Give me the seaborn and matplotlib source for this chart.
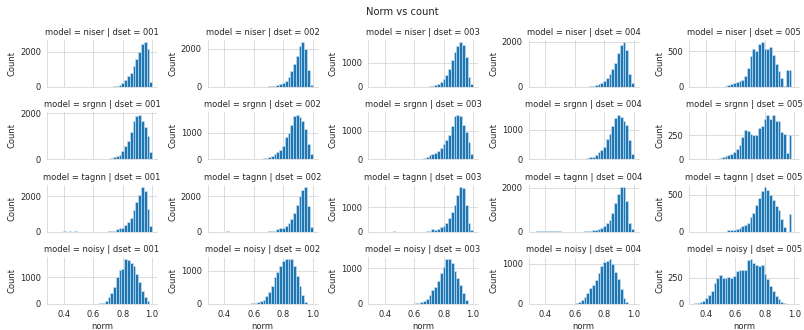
"""
Norm vs count: histograms of norm per model and dataset.
"""

import numpy as np
import pandas as pd
import seaborn as sns
import matplotlib.pyplot as plt


models = ["niser", "srgnn", "tagnn", "noisy"]
dsets = ["001", "002", "003", "004", "005"]

# common histogram bins (36 bins over the observed norm range)
bin_edges = np.linspace(0.32, 1.0, 37).tolist()

# counts per bin, one list per dset
niser_counts = [
    [0, 0, 0, 0, 0, 0, 0, 0, 10, 0, 0, 10, 0, 0, 0, 0, 0, 0,
     0, 0, 10, 20, 40, 70, 130, 230, 400, 600, 800, 1200, 1600, 2000, 2430, 2550, 2150, 280],
    [0, 0, 0, 0, 0, 0, 5, 0, 0, 0, 0, 0, 0, 0, 0, 0, 0, 0,
     10, 15, 25, 40, 60, 90, 150, 220, 330, 510, 820, 1230, 1630, 2140, 2360, 2000, 900, 110],
    [0, 0, 0, 0, 0, 0, 0, 5, 0, 0, 5, 0, 0, 0, 0, 0, 0, 0,
     8, 15, 30, 50, 85, 140, 190, 310, 510, 760, 1110, 1450, 1710, 1860, 1760, 1260, 400, 115],
    [0, 0, 0, 0, 0, 10, 0, 0, 0, 5, 0, 0, 0, 0, 0, 0, 0, 0,
     0, 12, 25, 45, 75, 120, 170, 270, 380, 580, 810, 1070, 1490, 1840, 1980, 1650, 550, 170],
    [0, 0, 0, 0, 0, 0, 0, 0, 0, 0, 0, 15, 30, 40, 60, 70, 90, 100,
     155, 270, 430, 535, 500, 610, 630, 540, 540, 565, 450, 320, 230, 130, 10, 235, 245, 0],
]

srgnn_counts = [
    [0, 0, 0, 0, 0, 0, 0, 0, 0, 0, 0, 0, 0, 0, 0, 0, 0, 0,
     0, 15, 30, 60, 100, 150, 200, 350, 560, 800, 1200, 1650, 1900, 1950, 1650, 1400, 1000, 300],
    [0, 0, 0, 0, 0, 0, 0, 0, 0, 0, 0, 0, 0, 0, 0, 0, 0, 15,
     30, 50, 80, 130, 180, 260, 360, 490, 850, 1000, 1280, 1640, 1680, 1580, 1450, 1130, 590, 205],
    [0, 0, 0, 0, 0, 0, 0, 0, 0, 0, 0, 0, 0, 0, 0, 0, 10, 25,
     50, 90, 140, 190, 235, 300, 390, 540, 680, 860, 1150, 1510, 1560, 1510, 1210, 940, 590, 175],
    [0, 0, 0, 0, 0, 0, 0, 0, 0, 0, 0, 0, 0, 0, 0, 0, 0, 0,
     15, 35, 60, 90, 150, 230, 320, 430, 680, 860, 1110, 1400, 1510, 1430, 1280, 1170, 660, 180],
    [0, 0, 0, 0, 0, 0, 0, 0, 0, 10, 20, 30, 45, 60, 75, 105, 155, 230,
     310, 300, 265, 250, 250, 330, 345, 425, 470, 425, 470, 405, 405, 290, 265, 65, 250, 0],
]

tagnn_counts = [
    [0, 0, 0, 0, 8, 0, 10, 0, 8, 0, 0, 0, 0, 0, 0, 0, 0, 0,
     0, 0, 15, 30, 60, 120, 180, 220, 380, 560, 780, 1200, 1650, 2050, 2530, 2300, 1300, 300],
    [0, 0, 5, 0, 0, 8, 0, 0, 0, 0, 0, 0, 0, 0, 0, 0, 0, 0,
     0, 0, 15, 30, 60, 120, 180, 230, 330, 480, 700, 1050, 1520, 2000, 2330, 2520, 1450, 250],
    [0, 0, 0, 0, 0, 0, 0, 5, 0, 0, 0, 0, 0, 0, 0, 0, 0, 0,
     0, 20, 40, 90, 70, 125, 180, 240, 350, 560, 830, 1110, 1530, 1850, 1800, 1110, 350, 70],
    [0, 10, 15, 10, 12, 10, 8, 10, 8, 6, 0, 0, 0, 0, 0, 0, 0, 0,
     15, 30, 50, 75, 90, 120, 155, 260, 385, 510, 850, 1310, 1700, 2050, 2030, 1400, 400, 110],
    [0, 0, 0, 0, 0, 0, 0, 0, 0, 0, 0, 0, 20, 25, 25, 35, 55, 75,
     95, 120, 200, 260, 360, 460, 560, 610, 570, 500, 430, 350, 300, 170, 60, 0, 240, 0],
]

noisy_counts = [
    [0, 0, 0, 0, 0, 0, 0, 0, 0, 0, 0, 0, 0, 0, 0, 0, 10, 20,
     50, 100, 240, 400, 620, 1000, 1250, 1320, 1670, 1650, 1530, 1400, 1100, 800, 500, 250, 120, 0],
    [0, 0, 0, 0, 0, 0, 0, 0, 0, 0, 0, 0, 0, 0, 20, 35, 55, 80,
     130, 235, 360, 540, 800, 950, 1150, 1280, 1340, 1350, 1340, 1150, 830, 540, 255, 50, 0, 0],
    [0, 0, 0, 0, 0, 0, 0, 0, 0, 0, 0, 0, 0, 0, 10, 20, 35, 60,
     95, 150, 260, 400, 480, 640, 860, 1040, 1250, 1250, 1140, 920, 730, 520, 300, 100, 0, 0],
    [0, 0, 0, 0, 0, 0, 0, 0, 0, 0, 0, 0, 0, 5, 10, 25, 60, 100,
     170, 260, 400, 480, 600, 760, 940, 1030, 1070, 1110, 1000, 800, 610, 380, 150, 60, 0, 0],
    [5, 10, 20, 30, 55, 90, 120, 200, 250, 280, 250, 245, 260, 245, 265, 320, 330, 330,
     330, 420, 430, 390, 370, 360, 370, 290, 240, 170, 120, 80, 50, 15, 5, 0, 0, 0],
]

counts = {
    "niser": niser_counts,
    "srgnn": srgnn_counts,
    "tagnn": tagnn_counts,
    "noisy": noisy_counts,
}


def build_frame():
    """Long table: one row per (model, dset, bin)."""
    edges = np.array(bin_edges)
    centers = (edges[:-1] + edges[1:]) / 2
    rows = []
    for model in models:
        for dset, values in zip(dsets, counts[model]):
            for x, c in zip(centers, values):
                rows.append({"model": model, "dset": dset, "norm": x, "count": c})
    return pd.DataFrame(rows)


def main():
    df = build_frame()

    sns.set_style("whitegrid")
    g = sns.FacetGrid(df, row="model", col="dset", row_order=models,
                      col_order=dsets, sharey=False, height=1.375, aspect=1.95)
    g.map_dataframe(sns.histplot, x="norm", weights="count", bins=bin_edges,
                    alpha=1, edgecolor="#cfe3f2", linewidth=0.7)

    g.figure.set_size_inches(13.4, 5.5)
    g.figure.subplots_adjust(left=0.0585, right=0.994, top=0.879, bottom=0.079,
                             wspace=0.459, hspace=0.539)
    g.figure.suptitle("Norm vs count")
    g.figure.savefig("out.png", dpi=60)


if __name__ == "__main__":
    main()
